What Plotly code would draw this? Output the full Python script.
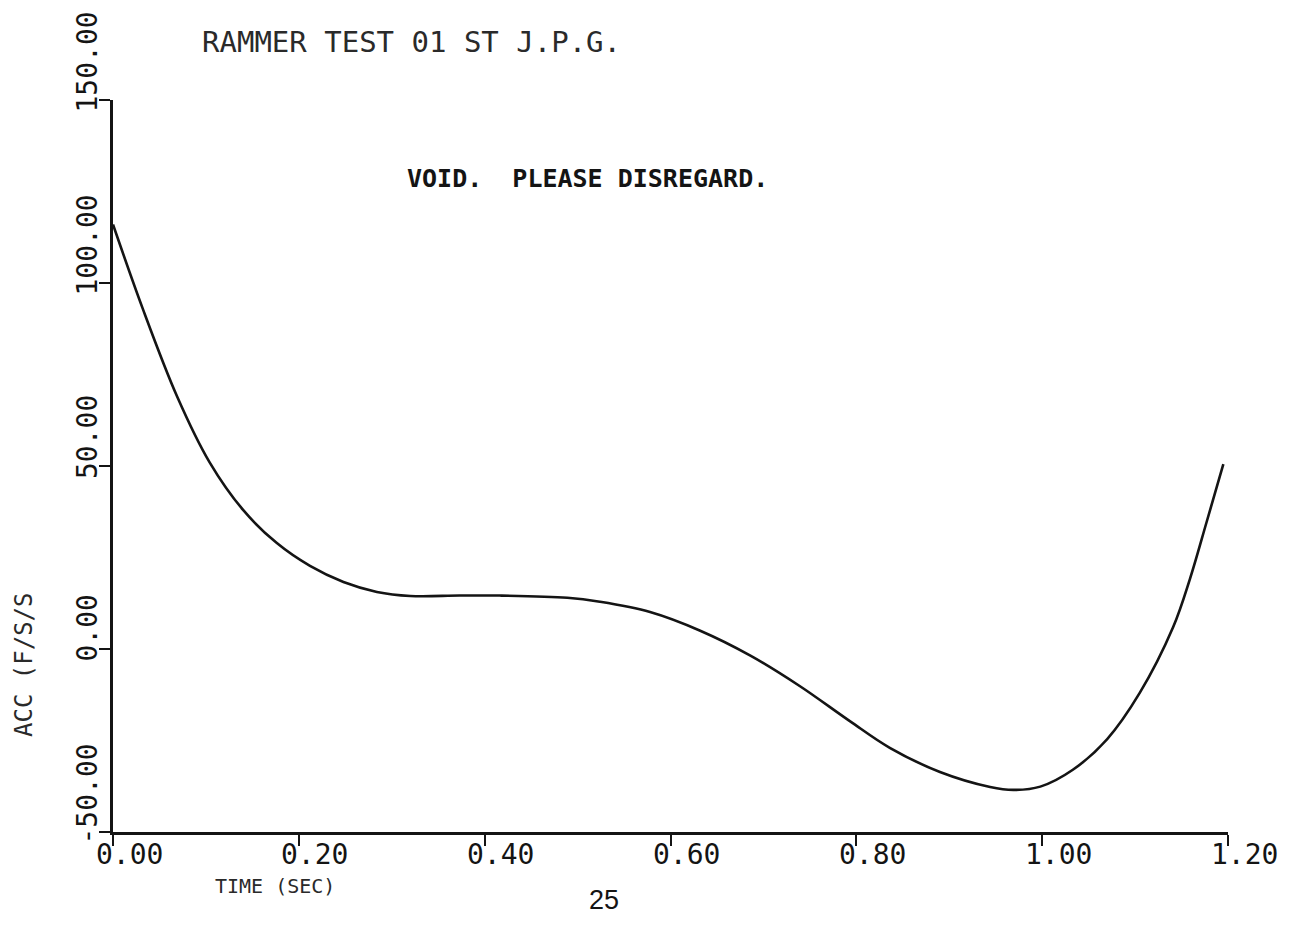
import plotly.graph_objects as go

# Rammer acceleration trace (time in seconds, acceleration in ft/s/s)
time_s = [0.000, 0.032, 0.069, 0.104, 0.140, 0.176, 0.212, 0.248, 0.284, 0.320,
          0.373, 0.416, 0.489, 0.524, 0.578, 0.632, 0.686, 0.739, 0.793, 0.836,
          0.890, 0.944, 0.969, 0.998, 1.033, 1.070, 1.105, 1.141, 1.159, 1.177, 1.195]
acc_fss = [116.0, 93.0, 69.0, 51.0, 38.0, 29.0, 22.7, 18.3, 15.6, 14.5,
           14.6, 14.6, 14.0, 12.9, 10.1, 5.0, -1.8, -10.1, -19.7, -27.0,
           -33.6, -37.7, -38.5, -37.6, -33.0, -24.6, -12.0, 6.0, 19.1, 34.7, 50.5]

x_ticks = [0.0, 0.2, 0.4, 0.6, 0.8, 1.0, 1.2]
x_tick_labels = ["0.00", "0.20", "0.40", "0.60", "0.80", "1.00", "1.20"]
y_ticks = [-50, 0, 50, 100, 150]
y_tick_labels = ["-50.00", "0.00", "50.00", "100.00", "150.00"]

W, H = 1305, 930
L, R, T, B = 113, 77, 100, 98
MONO = "DejaVu Sans Mono"
INK = "#141414"


def px_x(px):
    return (px - L) / (W - L - R)


def px_y(py):
    return (H - B - py) / (H - T - B)


fig = go.Figure()
fig.add_trace(go.Scatter(
    x=time_s, y=acc_fss, mode="lines",
    line=dict(color=INK, width=2.6, shape="spline", smoothing=1.0),
    hoverinfo="skip", showlegend=False,
))

axis_common = dict(
    showline=True, linecolor=INK, linewidth=3,
    ticks="outside", tickcolor=INK, tickwidth=2, ticklen=11,
    showgrid=False, zeroline=False, showticklabels=False,
)

annotations = []
for v, lab in zip(x_ticks, x_tick_labels):
    annotations.append(dict(
        x=v, xref="x", y=0, yref="paper", text=lab, showarrow=False,
        xanchor="center", yanchor="middle", xshift=16, yshift=-22,
        font=dict(family=MONO, size=28, color=INK),
    ))
for v, lab in zip(y_ticks, y_tick_labels):
    annotations.append(dict(
        x=0, xref="paper", y=v, yref="y", text=lab, showarrow=False,
        xanchor="center", yanchor="bottom", xshift=-26, yshift=-15,
        textangle=-90, font=dict(family=MONO, size=28, color=INK),
    ))

annotations += [
    dict(x=px_x(200), y=px_y(42), xref="paper", yref="paper",
         text="RAMMER TEST 01 ST J.P.G.", showarrow=False,
         xanchor="left", yanchor="middle",
         font=dict(family=MONO, size=29, color="#2a2a2a")),
    dict(x=px_x(405), y=px_y(178), xref="paper", yref="paper",
         text="<b>VOID.  PLEASE DISREGARD.</b>", showarrow=False,
         xanchor="left", yanchor="middle",
         font=dict(family=MONO, size=25, color=INK)),
    dict(x=px_x(24), y=px_y(665), xref="paper", yref="paper",
         text="ACC (F/S/S", showarrow=False, textangle=-90,
         xanchor="center", yanchor="middle",
         font=dict(family=MONO, size=24, color="#2a2a2a")),
    dict(x=px_x(275), y=px_y(886), xref="paper", yref="paper",
         text="TIME (SEC)", showarrow=False,
         xanchor="center", yanchor="middle",
         font=dict(family=MONO, size=20, color="#2a2a2a")),
    dict(x=px_x(604), y=px_y(900), xref="paper", yref="paper",
         text="25", showarrow=False,
         xanchor="center", yanchor="middle",
         font=dict(family="Liberation Sans", size=27, color=INK)),
]

fig.update_layout(
    width=W, height=H,
    margin=dict(l=L, r=R, t=T, b=B, pad=0),
    paper_bgcolor="white", plot_bgcolor="white",
    xaxis=dict(range=[0, 1.2], tickvals=x_ticks, **axis_common),
    yaxis=dict(range=[-50, 150], tickvals=y_ticks, **axis_common),
    annotations=annotations,
)

fig.write_html("out.html")
